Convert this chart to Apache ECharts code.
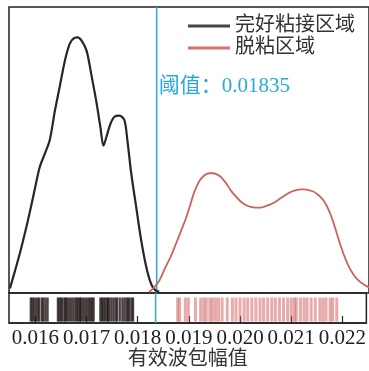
<!DOCTYPE html>
<html>
<head>
<meta charset="utf-8">
<script src="https://cdn.jsdelivr.net/npm/echarts@6/dist/echarts.min.js"></script>
<style>
  html, body { margin: 0; padding: 0; background: #fff; }
  #c { width: 369px; height: 371px; }
</style>
</head>
<body>
<div id="c"></div>
<script>
// Tick labels of the amplitude axis
const xTicks = [0.016, 0.017, 0.018, 0.019, 0.020, 0.021, 0.022];
const threshold = 0.01835;

// Kernel density of the intact (bonded) region
const intactX = [0.015504, 0.015601, 0.015697, 0.015794, 0.015890, 0.015986, 0.016083, 0.016179, 0.016276,
                 0.016372, 0.016469, 0.016565, 0.016662, 0.016758, 0.016816, 0.016893, 0.016990, 0.017086,
                 0.017183, 0.017260, 0.017318, 0.017376, 0.017453, 0.017530, 0.017627, 0.017723, 0.017781,
                 0.017858, 0.017955, 0.018051, 0.018148, 0.018244, 0.018321, 0.018399];
const intactDensity = [13, 62, 112, 168, 227, 291, 353, 389, 428,
                       507, 577, 647, 697, 714, 715, 706, 678, 608,
                       532, 462, 412, 437, 473, 493, 496, 484, 428,
                       333, 238, 146, 73, 25, 8, 3];

// Kernel density of the debonded region
const debondX = [0.018201, 0.018283, 0.018398, 0.018514, 0.018630, 0.018746, 0.018823, 0.018900, 0.018977,
                 0.019074, 0.019170, 0.019266, 0.019363, 0.019440, 0.019517, 0.019594, 0.019691, 0.019787,
                 0.019884, 0.019980, 0.020077, 0.020173, 0.020270, 0.020366, 0.020463, 0.020559, 0.020656,
                 0.020752, 0.020849, 0.020945, 0.021042, 0.021138, 0.021215, 0.021292, 0.021389, 0.021485,
                 0.021582, 0.021678, 0.021775, 0.021871, 0.021968, 0.022064, 0.022161, 0.022257, 0.022354,
                 0.022450, 0.022566];
const debondDensity = [3, 13, 34, 70, 104, 146, 174, 202, 235,
                       280, 311, 328, 335, 335, 332, 325, 308, 287,
                       270, 256, 246, 241, 239, 239, 243, 248, 255,
                       265, 274, 282, 287, 290, 290, 288, 284, 274,
                       260, 235, 199, 154, 112, 78, 53, 36, 25,
                       17, 10];

// Individual samples (rug)
const intactRug = [0.01591, 0.01594, 0.01597, 0.01601, 0.01605, 0.01608, 0.01613, 0.01616, 0.01620, 0.01624,
                   0.01644, 0.01647, 0.01650, 0.01653, 0.01657, 0.01659, 0.01662, 0.01666, 0.01670, 0.01674,
                   0.01678, 0.01681, 0.01684, 0.01687, 0.01689, 0.01693, 0.01697, 0.01701, 0.01705, 0.01708,
                   0.01711, 0.01714, 0.01727, 0.01730, 0.01733, 0.01736, 0.01740, 0.01742, 0.01745, 0.01749,
                   0.01753, 0.01757, 0.01760, 0.01765, 0.01770, 0.01774, 0.01778, 0.01781, 0.01784, 0.01788, 0.01791];
const debondRug = [0.01878, 0.01882, 0.01893, 0.01899, 0.01913, 0.01923, 0.01929, 0.01934, 0.01941, 0.01946,
                   0.01952, 0.01958, 0.01965, 0.01975, 0.01985, 0.01992, 0.02000, 0.02008, 0.02015, 0.02023,
                   0.02031, 0.02039, 0.02046, 0.02054, 0.02062, 0.02069, 0.02077, 0.02085, 0.02093, 0.02100,
                   0.02106, 0.02110, 0.02118, 0.02125, 0.02131, 0.02139, 0.02147, 0.02156, 0.02162, 0.02168,
                   0.02176, 0.02181, 0.02189];

const X_MIN = 0.015485, X_MAX = 0.022469;
const SERIF = 'Liberation Serif, Noto Sans CJK SC, serif';
const CYAN = '#2aa8de';

const pairs = (xs, ys) => xs.map((x, i) => [x, ys[i]]);

function rugSeries(values, color, width) {
  return {
    type: 'custom',
    xAxisIndex: 1, yAxisIndex: 1,
    silent: true,
    data: values.map(v => [v, 0]),
    encode: { x: 0, y: 1 },
    renderItem(params, api) {
      const x = api.value(0);
      const a = api.coord([x, 0.05]);
      const b = api.coord([x, 0.85]);
      return { type: 'line', shape: { x1: a[0], y1: a[1], x2: b[0], y2: b[1] },
               style: { stroke: color, lineWidth: width } };
    }
  };
}

const chart = echarts.init(document.getElementById('c'), null, { renderer: 'canvas' });
chart.setOption({
  backgroundColor: '#fff',
  animation: false,
  textStyle: { fontFamily: SERIF },
  grid: [
    { left: 9, width: 362, top: 7, height: 286, show: true, borderColor: '#222', borderWidth: 1.5, containLabel: false },
    { left: 9, width: 362, top: 293, height: 32, show: true, borderColor: '#222', borderWidth: 1.5, containLabel: false }
  ],
  legend: {
    orient: 'vertical', left: 183, top: 11,
    itemWidth: 42, itemHeight: 3, itemGap: 2, icon: 'rect',
    textStyle: { fontSize: 20, color: '#333', fontFamily: SERIF },
    data: [
      { name: '完好粘接区域', itemStyle: { color: '#4a4444' } },
      { name: '脱粘区域', itemStyle: { color: '#d9736b' } }
    ]
  },
  xAxis: [
    { gridIndex: 0, type: 'value', min: X_MIN, max: X_MAX, show: false },
    {
      gridIndex: 1, type: 'value', min: X_MIN, max: X_MAX,
      axisLine: { show: true, lineStyle: { color: '#222', width: 1.5 } },
      axisTick: { show: true, inside: true, length: 7, lineStyle: { color: '#222', width: 1.2 }, customValues: xTicks },
      axisLabel: {
        show: true, customValues: xTicks, formatter: v => v.toFixed(3),
        fontSize: 21, color: '#222', fontFamily: SERIF, margin: 5
      },
      splitLine: { show: false },
      name: '有效波包幅值', nameLocation: 'middle', nameGap: 25,
      nameTextStyle: { fontSize: 20, color: '#333', fontFamily: SERIF }
    }
  ],
  yAxis: [
    { gridIndex: 0, type: 'value', min: 0, max: 800, show: false },
    { gridIndex: 1, type: 'value', min: 0, max: 1, show: false }
  ],
  series: [
    {
      name: '完好粘接区域', type: 'line', xAxisIndex: 0, yAxisIndex: 0,
      data: pairs(intactX, intactDensity), smooth: 0.3, symbol: 'none', clip: true,
      lineStyle: { color: '#2b2424', width: 2.2 }, itemStyle: { color: '#4a4444' }
    },
    {
      name: '脱粘区域', type: 'line', xAxisIndex: 0, yAxisIndex: 0,
      data: pairs(debondX, debondDensity), smooth: 0.3, symbol: 'none', clip: true,
      lineStyle: { color: '#c9645c', width: 1.8 }, itemStyle: { color: '#d9736b' }
    },
    {
      type: 'line', xAxisIndex: 0, yAxisIndex: 0, silent: true, symbol: 'none',
      data: [[threshold, 0], [threshold, 800]], lineStyle: { color: CYAN, width: 1.5 }, z: 1
    },
    rugSeries(intactRug, 'rgba(30,20,20,0.8)', 2.2),
    rugSeries(debondRug, 'rgba(205,80,80,0.48)', 3),
    {
      type: 'line', xAxisIndex: 1, yAxisIndex: 1, silent: true, symbol: 'none',
      data: [[threshold, 0], [threshold, 1]], lineStyle: { color: CYAN, width: 1.5 }
    }
  ]
});

// Threshold caption, placed just right of the threshold line
const px = chart.convertToPixel({ xAxisIndex: 0, yAxisIndex: 0 }, [threshold, 0]);
chart.setOption({
  graphic: [{
    type: 'text', left: px[0] + 2, top: 76,
    style: { text: '阈值：' + threshold, fontSize: 21, fill: CYAN, fontFamily: SERIF }
  }]
});
</script>
</body>
</html>
